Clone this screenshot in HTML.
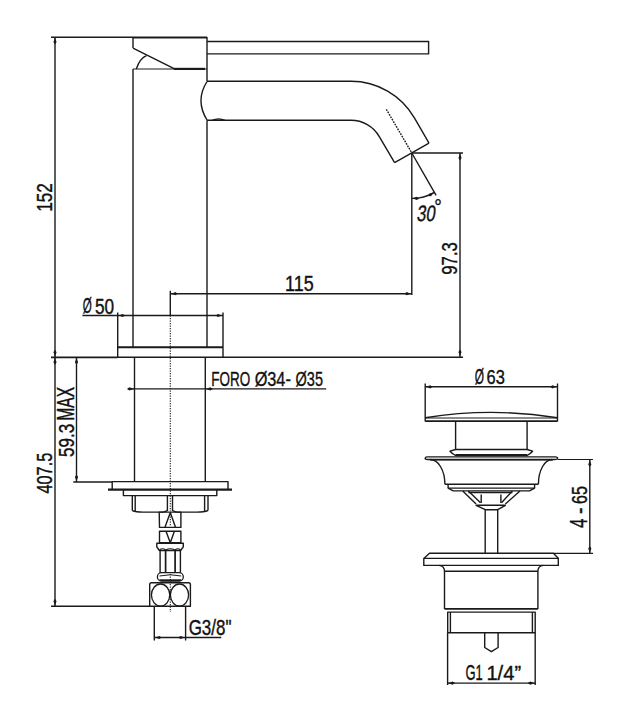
<!DOCTYPE html>
<html><head><meta charset="utf-8"><style>
html,body{margin:0;padding:0;background:#fff;}
svg{display:block;}
text{font-family:"Liberation Sans",sans-serif;}
</style></head><body>
<svg width="629" height="720" viewBox="0 0 629 720">
<rect width="629" height="720" fill="#fff"/>
<line x1="51" y1="37.2" x2="133" y2="37.2" stroke="#1a1a1a" stroke-width="1.4" />
<line x1="133" y1="37.5" x2="207" y2="37.5" stroke="#1a1a1a" stroke-width="2.2" />
<line x1="133" y1="37" x2="133" y2="48.1" stroke="#1a1a1a" stroke-width="1.4" />
<line x1="133" y1="48.1" x2="174.1" y2="68.6" stroke="#1a1a1a" stroke-width="1.4" />
<path d="M136.3,69 Q140,58 146.5,55.6" stroke="#1a1a1a" stroke-width="1.4" fill="none" stroke-linejoin="round" />
<line x1="133" y1="69" x2="207" y2="69" stroke="#1a1a1a" stroke-width="1.2" />
<line x1="174" y1="68.9" x2="205" y2="68.9" stroke="#1a1a1a" stroke-width="2.2" />
<line x1="133.0" y1="69" x2="133.0" y2="347.3" stroke="#1a1a1a" stroke-width="1.4" />
<line x1="207" y1="37" x2="207" y2="81.3" stroke="#1a1a1a" stroke-width="1.4" />
<line x1="207" y1="120.2" x2="207" y2="347.3" stroke="#1a1a1a" stroke-width="1.4" />
<path d="M207,41.5 H428.6 V53.9 H207" stroke="#1a1a1a" stroke-width="1.4" fill="none" stroke-linejoin="round" />
<path d="M207,81.3 H351 A73.2,73.2 0 0 1 414.4,117.9 L429,143.2" stroke="#1a1a1a" stroke-width="1.4" fill="none" stroke-linejoin="round" />
<path d="M207,120.2 H351 A32.7,32.7 0 0 1 379.3,136.55 L394.6,162.6" stroke="#1a1a1a" stroke-width="1.4" fill="none" stroke-linejoin="round" />
<line x1="429" y1="143.2" x2="394.6" y2="162.6" stroke="#1a1a1a" stroke-width="1.4" />
<path d="M207,81.5 Q195,100.5 207,120" stroke="#1a1a1a" stroke-width="1.4" fill="none" stroke-linejoin="round" />
<path d="M212.2,120.4 Q218.6,117.2 225,120.4" stroke="#1a1a1a" stroke-width="1.2" fill="none" stroke-linejoin="round" />
<line x1="386.3" y1="109.3" x2="411.8" y2="152.9" stroke="#1a1a1a" stroke-width="1.4" stroke-dasharray="1.7,1.1"/>
<line x1="411.8" y1="153" x2="463" y2="153" stroke="#1a1a1a" stroke-width="1.4" />
<line x1="411.8" y1="153" x2="411.8" y2="295" stroke="#1a1a1a" stroke-width="1.4" />
<line x1="411.8" y1="153" x2="436.1" y2="195.4" stroke="#1a1a1a" stroke-width="1.4" />
<path d="M411.8,198.4 A45.4,45.4 0 0 0 434.5,192.3" stroke="#1a1a1a" stroke-width="1.4" fill="none" stroke-linejoin="round" />
<polygon points="411.80,198.40 414.80,197.60 416.80,196.80 419.30,198.40 416.80,200.00 414.80,199.20" fill="#1a1a1a"/>
<polygon points="434.50,192.30 432.30,194.49 430.97,196.19 428.00,196.05 429.37,193.41 431.50,193.11" fill="#1a1a1a"/>
<text transform="translate(416.23,221.00) skewX(-8) scale(0.7581,1.0062)" font-size="22" fill="#111" stroke="#111" stroke-width="0.4">30</text>
<text transform="translate(434.14,213.85) scale(0.8593,0.9385)" font-size="22" fill="#111" stroke="#111" stroke-width="0.4">°</text>
<line x1="460" y1="153" x2="460" y2="357" stroke="#1a1a1a" stroke-width="1.4" />
<polygon points="460.00,153.00 460.80,156.00 461.60,158.00 460.00,160.50 458.40,158.00 459.20,156.00" fill="#1a1a1a"/>
<polygon points="460.00,357.00 459.20,354.00 458.40,352.00 460.00,349.50 461.60,352.00 460.80,354.00" fill="#1a1a1a"/>
<text transform="translate(456.71,274.67) rotate(-90) scale(0.7588,0.9750)" font-size="22" fill="#111" stroke="#111" stroke-width="0.4">97.3</text>
<line x1="223" y1="357.3" x2="463" y2="357.3" stroke="#1a1a1a" stroke-width="1.4" />
<line x1="51" y1="357.3" x2="117.5" y2="357.3" stroke="#1a1a1a" stroke-width="1.8" />
<line x1="117.7" y1="357.3" x2="223" y2="357.3" stroke="#1a1a1a" stroke-width="1.4" />
<line x1="170.3" y1="293.7" x2="411.8" y2="293.7" stroke="#1a1a1a" stroke-width="1.4" />
<polygon points="170.30,293.70 173.30,292.90 175.30,292.10 177.80,293.70 175.30,295.30 173.30,294.50" fill="#1a1a1a"/>
<polygon points="411.80,293.70 408.80,294.50 406.80,295.30 404.30,293.70 406.80,292.10 408.80,292.90" fill="#1a1a1a"/>
<text transform="translate(285.08,290.70) scale(0.8153,1.0095)" font-size="22" fill="#111" stroke="#111" stroke-width="0.4">115</text>
<line x1="170.3" y1="290.8" x2="170.3" y2="315.5" stroke="#1a1a1a" stroke-width="1.4" />
<line x1="170.3" y1="315.5" x2="170.3" y2="511" stroke="#1a1a1a" stroke-width="1.1" stroke-dasharray="1.3,1.2"/>
<line x1="170.3" y1="514" x2="170.3" y2="526" stroke="#1a1a1a" stroke-width="1.1" stroke-dasharray="1.3,1.2"/>
<line x1="170.3" y1="574" x2="170.3" y2="612" stroke="#1a1a1a" stroke-width="1.1" stroke-dasharray="1.3,1.2"/>
<line x1="82.4" y1="315.5" x2="223" y2="315.5" stroke="#1a1a1a" stroke-width="1.4" />
<polygon points="117.70,315.50 120.70,314.70 122.70,313.90 125.20,315.50 122.70,317.10 120.70,316.30" fill="#1a1a1a"/>
<polygon points="223.00,315.50 220.00,316.30 218.00,317.10 215.50,315.50 218.00,313.90 220.00,314.70" fill="#1a1a1a"/>
<line x1="117.7" y1="312.6" x2="117.7" y2="358" stroke="#1a1a1a" stroke-width="1.4" />
<line x1="223" y1="312.6" x2="223" y2="357.3" stroke="#1a1a1a" stroke-width="1.4" />
<text transform="translate(82.74,313.26) scale(0.5292,0.9910)" font-size="22" fill="#111" stroke="#111" stroke-width="0.4">Ø</text>
<text transform="translate(94.91,313.51) scale(0.7826,0.9875)" font-size="22" fill="#111" stroke="#111" stroke-width="0.4">50</text>
<line x1="117.7" y1="347.3" x2="223" y2="347.3" stroke="#1a1a1a" stroke-width="2.0" />
<line x1="134.5" y1="357.3" x2="134.5" y2="481.6" stroke="#1a1a1a" stroke-width="1.4" />
<line x1="205.3" y1="357.3" x2="205.3" y2="481.6" stroke="#1a1a1a" stroke-width="1.4" />
<line x1="127.9" y1="388.9" x2="326.2" y2="388.9" stroke="#1a1a1a" stroke-width="1.4" />
<polygon points="134.50,388.90 131.50,389.70 129.50,390.50 127.00,388.90 129.50,387.30 131.50,388.10" fill="#1a1a1a"/>
<polygon points="205.30,388.90 208.30,388.10 210.30,387.30 212.80,388.90 210.30,390.50 208.30,389.70" fill="#1a1a1a"/>
<text transform="translate(211.28,386.32) scale(0.6139,0.9500)" font-size="22" fill="#111" stroke="#111" stroke-width="0.4">FORO</text>
<text transform="translate(254.63,386.20) scale(0.7411,0.9313)" font-size="22" fill="#111" stroke="#111" stroke-width="0.4">Ø34-</text>
<text transform="translate(295.57,386.20) scale(0.6593,0.9313)" font-size="22" fill="#111" stroke="#111" stroke-width="0.4">Ø35</text>
<line x1="55" y1="37" x2="55" y2="606.3" stroke="#1a1a1a" stroke-width="1.4" />
<polygon points="55.00,37.00 55.80,40.00 56.60,42.00 55.00,44.50 53.40,42.00 54.20,40.00" fill="#1a1a1a"/>
<polygon points="55.00,357.30 54.20,354.30 53.40,352.30 55.00,349.80 56.60,352.30 55.80,354.30" fill="#1a1a1a"/>
<polygon points="55.00,357.30 55.80,360.30 56.60,362.30 55.00,364.80 53.40,362.30 54.20,360.30" fill="#1a1a1a"/>
<polygon points="55.00,606.30 54.20,603.30 53.40,601.30 55.00,598.80 56.60,601.30 55.80,603.30" fill="#1a1a1a"/>
<text transform="translate(51.71,211.77) rotate(-90) scale(0.7825,0.9750)" font-size="22" fill="#111" stroke="#111" stroke-width="0.4">152</text>
<text transform="translate(52.11,493.49) rotate(-90) scale(0.7407,0.9750)" font-size="22" fill="#111" stroke="#111" stroke-width="0.4">407.5</text>
<line x1="76.5" y1="357.3" x2="76.5" y2="482" stroke="#1a1a1a" stroke-width="1.4" />
<polygon points="76.50,357.30 77.30,360.30 78.10,362.30 76.50,364.80 74.90,362.30 75.70,360.30" fill="#1a1a1a"/>
<polygon points="76.50,482.00 75.70,479.00 74.90,477.00 76.50,474.50 78.10,477.00 77.30,479.00" fill="#1a1a1a"/>
<line x1="73.3" y1="482" x2="112" y2="482" stroke="#1a1a1a" stroke-width="1.4" />
<text transform="translate(74.44,420.45) rotate(-90) scale(0.7000,1.0581)" font-size="22" fill="#111" stroke="#111" stroke-width="0.4">MAX</text>
<text transform="translate(74.28,457.08) rotate(-90) scale(0.7782,1.0437)" font-size="22" fill="#111" stroke="#111" stroke-width="0.4">59.3</text>
<path d="M112.2,489 V481.6 H228 V489" stroke="#1a1a1a" stroke-width="1.4" fill="none" stroke-linejoin="round" />
<line x1="108" y1="489.6" x2="232" y2="489.6" stroke="#1a1a1a" stroke-width="2.4" />
<path d="M123.4,490 V495.6 H216.8 V490" stroke="#1a1a1a" stroke-width="1.4" fill="none" stroke-linejoin="round" />
<line x1="132.3" y1="495.6" x2="132.3" y2="510.5" stroke="#1a1a1a" stroke-width="1.4" />
<line x1="135.2" y1="495.6" x2="135.2" y2="511" stroke="#1a1a1a" stroke-width="1.4" />
<line x1="208" y1="495.6" x2="208" y2="510.5" stroke="#1a1a1a" stroke-width="1.4" />
<line x1="204.6" y1="495.6" x2="204.6" y2="511" stroke="#1a1a1a" stroke-width="1.4" />
<path d="M132.3,510.5 Q136,512.1 143,512.1 L163,512.1 Q166,511.5 167.4,510.5 M172.5,510.5 Q174,511.5 177,512.1 L197,512.1 Q204,512.1 208,510.5" stroke="#1a1a1a" stroke-width="1.4" fill="none" stroke-linejoin="round" />
<line x1="167.4" y1="495.3" x2="167.4" y2="511" stroke="#1a1a1a" stroke-width="1.4" />
<line x1="172.5" y1="495.3" x2="172.5" y2="511" stroke="#1a1a1a" stroke-width="1.4" />
<path d="M159.2,512.1 H180.9 V527.4 H159.5 Z" stroke="#1a1a1a" stroke-width="1.4" fill="none" stroke-linejoin="round" />
<path d="M164.9,527.4 L170.3,512.5 L175.6,527.4" stroke="#1a1a1a" stroke-width="1.4" fill="none" stroke-linejoin="round" />
<path d="M159.5,531.2 H180.9 V542.7 H159.5 Z" stroke="#1a1a1a" stroke-width="1.4" fill="none" stroke-linejoin="round" />
<path d="M166,531.2 L170.3,542.7 L174.4,531.2" stroke="#1a1a1a" stroke-width="1.4" fill="none" stroke-linejoin="round" />
<path d="M156.8,543.3 H183.3 V546.8 L180.6,550.5 H159.4 L156.8,546.8 Z" stroke="#1a1a1a" stroke-width="1.4" fill="none" stroke-linejoin="round" />
<path d="M159.4,550 Q162.5,547.5 165.6,550 Q170.3,547.5 175.1,550 Q177.8,547.5 180.6,550" stroke="#1a1a1a" stroke-width="1.1" fill="none" stroke-linejoin="round" />
<line x1="160.1" y1="550" x2="160.1" y2="572.7" stroke="#1a1a1a" stroke-width="1.4" />
<line x1="165.6" y1="550" x2="165.6" y2="572.7" stroke="#1a1a1a" stroke-width="1.7" />
<line x1="175.1" y1="550" x2="175.1" y2="572.7" stroke="#1a1a1a" stroke-width="1.7" />
<line x1="180.4" y1="550" x2="180.4" y2="572.7" stroke="#1a1a1a" stroke-width="1.4" />
<rect x="157.4" y="572.7" width="25.9" height="8.3" rx="4.1" fill="none" stroke="#1a1a1a" stroke-width="1.3"/>
<path d="M159.5,576 Q170.3,573.5 181.2,576" stroke="#1a1a1a" stroke-width="1.0" fill="none" stroke-linejoin="round" />
<line x1="159.5" y1="580.2" x2="181.2" y2="580.2" stroke="#1a1a1a" stroke-width="1.8" />
<path d="M151.5,582.8 H188.6 Q190.4,582.8 190.4,584.6 V606.3 H149.7 V584.6 Q149.7,582.8 151.5,582.8 Z" stroke="#1a1a1a" stroke-width="1.4" fill="none" stroke-linejoin="round" />
<ellipse cx="160.6" cy="595.1" rx="9.15" ry="11.1" fill="none" stroke="#1a1a1a" stroke-width="1.3"/>
<ellipse cx="179.5" cy="595.1" rx="9.1" ry="11.1" fill="none" stroke="#1a1a1a" stroke-width="1.3"/>
<line x1="51" y1="606.3" x2="150" y2="606.3" stroke="#1a1a1a" stroke-width="1.4" />
<line x1="154.3" y1="606.3" x2="154.3" y2="640.5" stroke="#1a1a1a" stroke-width="1.4" />
<line x1="185.6" y1="606.3" x2="185.6" y2="640.5" stroke="#1a1a1a" stroke-width="1.4" />
<line x1="154.3" y1="637.5" x2="221.3" y2="637.5" stroke="#1a1a1a" stroke-width="1.4" />
<polygon points="154.30,637.50 157.30,636.70 159.30,635.90 161.80,637.50 159.30,639.10 157.30,638.30" fill="#1a1a1a"/>
<polygon points="185.60,637.50 182.60,638.30 180.60,639.10 178.10,637.50 180.60,635.90 182.60,636.70" fill="#1a1a1a"/>
<text transform="translate(188.63,635.11) scale(0.7721,0.9818)" font-size="22" fill="#111" stroke="#111" stroke-width="0.4">G3/8&quot;</text>
<line x1="425.2" y1="386.8" x2="557.5" y2="386.8" stroke="#1a1a1a" stroke-width="1.4" />
<polygon points="425.20,386.80 428.20,386.00 430.20,385.20 432.70,386.80 430.20,388.40 428.20,387.60" fill="#1a1a1a"/>
<polygon points="557.50,386.80 554.50,387.60 552.50,388.40 550.00,386.80 552.50,385.20 554.50,386.00" fill="#1a1a1a"/>
<line x1="425.2" y1="383.5" x2="425.2" y2="421.5" stroke="#1a1a1a" stroke-width="1.4" />
<line x1="557.5" y1="383.5" x2="557.5" y2="421.5" stroke="#1a1a1a" stroke-width="1.4" />
<text transform="translate(474.63,384.26) scale(0.5415,0.9910)" font-size="22" fill="#111" stroke="#111" stroke-width="0.4">Ø</text>
<text transform="translate(486.55,384.13) scale(0.7473,0.9375)" font-size="22" fill="#111" stroke="#111" stroke-width="0.4">63</text>
<path d="M425.2,417.8 Q491.3,407 557.5,417.8" stroke="#1a1a1a" stroke-width="1.4" fill="none" stroke-linejoin="round" />
<line x1="425.2" y1="418" x2="557.5" y2="418" stroke="#1a1a1a" stroke-width="1.0" />
<line x1="425.2" y1="421.1" x2="557.5" y2="421.1" stroke="#1a1a1a" stroke-width="1.6" />
<line x1="455.6" y1="421.1" x2="455.6" y2="449.5" stroke="#1a1a1a" stroke-width="1.4" />
<line x1="527.1" y1="421.1" x2="527.1" y2="449.5" stroke="#1a1a1a" stroke-width="1.4" />
<path d="M455.6,449.5 L450,451.2 Q452,453.5 455.6,455.5 H527.1 Q530.6,453.5 532.6,451.2 L527.1,449.5 Z" stroke="#1a1a1a" stroke-width="1.4" fill="none" stroke-linejoin="round" />
<line x1="455.6" y1="455" x2="527.1" y2="455" stroke="#1a1a1a" stroke-width="1.8" />
<path d="M427,456.9 H555.7 Q558,457.5 557.5,458.5 Q557,459.5 555,459.5 H427.5 Q425,459.5 425.2,458.2 Q425.5,456.9 427,456.9 Z" stroke="#1a1a1a" stroke-width="1.4" fill="none" stroke-linejoin="round" />
<line x1="430" y1="459.7" x2="553" y2="459.7" stroke="#1a1a1a" stroke-width="1.6" />
<path d="M430.3,459.5 A14.6,24.8 0 0 1 444.9,484.3" stroke="#1a1a1a" stroke-width="1.4" fill="none" stroke-linejoin="round" />
<path d="M552.2,459.5 A13.8,24.8 0 0 0 538.4,484.3" stroke="#1a1a1a" stroke-width="1.4" fill="none" stroke-linejoin="round" />
<line x1="557.5" y1="459.5" x2="593" y2="459.5" stroke="#1a1a1a" stroke-width="1.2" />
<line x1="444.9" y1="484.3" x2="538.4" y2="484.3" stroke="#1a1a1a" stroke-width="1.4" />
<path d="M448.1,484.3 V488.1 L453.2,490.9 H529.5 L534.6,488.1 V484.3" stroke="#1a1a1a" stroke-width="1.4" fill="none" stroke-linejoin="round" />
<line x1="448.1" y1="488.1" x2="534.6" y2="488.1" stroke="#1a1a1a" stroke-width="1.4" />
<path d="M462.7,491 L476.1,504 M468.4,491 L480.5,502.7 M520,491 L505.4,504 M512.4,491 L501.5,502.7" stroke="#1a1a1a" stroke-width="1.4" fill="none" stroke-linejoin="round" />
<line x1="468.4" y1="492.5" x2="512.4" y2="492.5" stroke="#1a1a1a" stroke-width="1.6" />
<path d="M481.2,494.4 V503 M500.9,494.4 V503" stroke="#1a1a1a" stroke-width="1.4" fill="none" stroke-linejoin="round" />
<path d="M476.1,505.3 H505.4 L497.7,509.7 H485.3 Z" stroke="#1a1a1a" stroke-width="1.4" fill="none" stroke-linejoin="round" />
<line x1="485.2" y1="509.7" x2="485.2" y2="553" stroke="#1a1a1a" stroke-width="1.4" />
<line x1="497.7" y1="509.7" x2="497.7" y2="553" stroke="#1a1a1a" stroke-width="1.4" />
<path d="M429.5,553.3 H553.4 L558.3,558.2 V565.4 H423.8 V558.4 Z" stroke="#1a1a1a" stroke-width="1.4" fill="none" stroke-linejoin="round" />
<line x1="423.8" y1="558.4" x2="558.3" y2="558.4" stroke="#1a1a1a" stroke-width="1.3" />
<path d="M439,565.4 Q444.5,566 444.5,571.3 V608.9" stroke="#1a1a1a" stroke-width="1.4" fill="none" stroke-linejoin="round" />
<path d="M543.3,565.4 Q537.9,566 537.9,571.3 V608.9" stroke="#1a1a1a" stroke-width="1.4" fill="none" stroke-linejoin="round" />
<line x1="444.5" y1="571.3" x2="537.9" y2="571.3" stroke="#1a1a1a" stroke-width="1.4" />
<line x1="444.5" y1="608.9" x2="537.9" y2="608.9" stroke="#1a1a1a" stroke-width="1.6" />
<path d="M447.7,612.1 V632.8 H535.2 V612.1 Z" stroke="#1a1a1a" stroke-width="1.4" fill="none" stroke-linejoin="round" />
<line x1="450.4" y1="612.1" x2="450.4" y2="632.8" stroke="#1a1a1a" stroke-width="1.4" />
<line x1="532.4" y1="612.1" x2="532.4" y2="632.8" stroke="#1a1a1a" stroke-width="1.4" />
<path d="M484.7,632.8 V647.5 L491.4,651.7 L498.1,647.5 V632.8" stroke="#1a1a1a" stroke-width="1.4" fill="none" stroke-linejoin="round" />
<line x1="447.6" y1="632.8" x2="447.6" y2="685" stroke="#1a1a1a" stroke-width="1.4" />
<line x1="535.2" y1="632.8" x2="535.2" y2="685" stroke="#1a1a1a" stroke-width="1.4" />
<line x1="447.6" y1="683.1" x2="535.2" y2="683.1" stroke="#1a1a1a" stroke-width="1.4" />
<polygon points="447.60,683.10 450.60,682.30 452.60,681.50 455.10,683.10 452.60,684.70 450.60,683.90" fill="#1a1a1a"/>
<polygon points="535.20,683.10 532.20,683.90 530.20,684.70 527.70,683.10 530.20,681.50 532.20,682.30" fill="#1a1a1a"/>
<text transform="translate(465.41,679.92) scale(0.5891,0.9625)" font-size="22" fill="#111" stroke="#111" stroke-width="0.4">G1</text>
<text transform="translate(486.43,679.93) scale(0.9147,0.9333)" font-size="22" fill="#111" stroke="#111" stroke-width="0.4">1/4”</text>
<line x1="589.8" y1="459.5" x2="589.8" y2="553.4" stroke="#1a1a1a" stroke-width="1.4" />
<polygon points="589.80,459.50 590.60,462.50 591.40,464.50 589.80,467.00 588.20,464.50 589.00,462.50" fill="#1a1a1a"/>
<polygon points="589.80,553.40 589.00,550.40 588.20,548.40 589.80,545.90 591.40,548.40 590.60,550.40" fill="#1a1a1a"/>
<line x1="553.4" y1="553.4" x2="593" y2="553.4" stroke="#1a1a1a" stroke-width="1.3" />
<text transform="translate(586.99,504.03) rotate(-90) scale(0.7297,1.0125)" font-size="22" fill="#111" stroke="#111" stroke-width="0.4">65</text>
<text transform="translate(587.09,513.95) rotate(-90) scale(0.8696,1.0500)" font-size="22" fill="#111" stroke="#111" stroke-width="0.4">-</text>
<text transform="translate(587.24,528.09) rotate(-90) scale(0.7739,1.0452)" font-size="22" fill="#111" stroke="#111" stroke-width="0.4">4</text>
</svg>
</body></html>
